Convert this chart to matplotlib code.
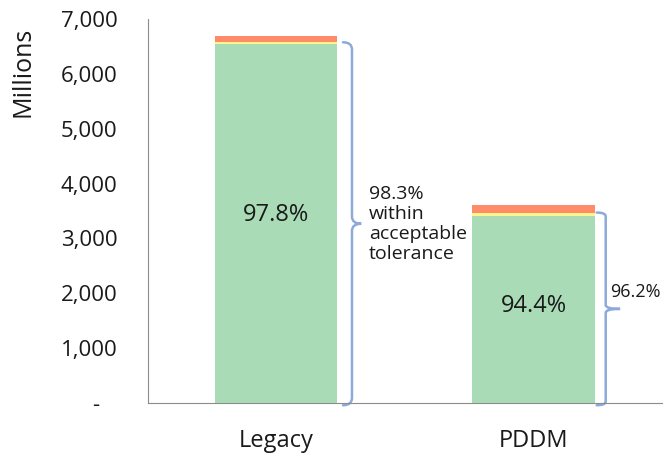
import matplotlib.pyplot as plt
from matplotlib.path import Path
from matplotlib.patches import PathPatch
from matplotlib.ticker import FuncFormatter

# data (millions)
categories = ['Legacy', 'PDDM']
green = [6543, 3407]    # within tight tolerance
yellow = [33, 65]       # within acceptable tolerance
red = [114, 138]        # outside tolerance
green_pct = ['97.8%', '94.4%']
brace_text = ['98.3%\nwithin\nacceptable\ntolerance', '96.2%']

c_green = '#A9DCB6'
c_yellow = '#FFF58C'
c_red = '#FF8C69'
c_brace = '#8DAADA'
txt = '#1a1a1a'

plt.rcParams['font.family'] = ['Open Sans', 'DejaVu Sans']

fig = plt.figure(figsize=(6.66, 4.58), dpi=100)
ax = fig.add_axes([0.222, 0.120, 0.772, 0.8385])

x = list(range(len(categories)))
w = 0.475
bot2 = [g + y for g, y in zip(green, yellow)]
ax.bar(x, green, width=w, color=c_green)
ax.bar(x, yellow, width=w, bottom=green, color=c_yellow)
ax.bar(x, red, width=w, bottom=bot2, color=c_red)

ax.set_xlim(-0.5, 1.5)
ax.set_ylim(0, 7000)
ax.set_yticks(range(0, 7001, 1000))
ax.yaxis.set_major_formatter(FuncFormatter(lambda v, p: '-   ' if v == 0 else f'{int(v):,}'))
ax.set_xticks(x)
ax.set_xticklabels(categories, fontsize=17, color=txt)
ax.tick_params(axis='both', length=0, labelsize=16, labelcolor=txt)
ax.tick_params(axis='x', labelsize=17, pad=19)
ax.tick_params(axis='y', pad=22)
for s in ['top', 'right']:
    ax.spines[s].set_visible(False)
ax.spines['left'].set_color('#8c8c8c')
ax.spines['bottom'].set_color('#8c8c8c')

ax.set_ylabel('Millions', fontsize=18, color=txt)
ax.yaxis.set_label_coords(-0.243, 0.862)
ax.yaxis.label.set_va('center')
ax.yaxis.label.set_ha('center')

# labels inside green bars
label_y = [3430, 1770]
for xi, ly, t in zip(x, label_y, green_pct):
    ax.text(xi, ly, t, ha='center', va='center', fontsize=17, color=txt)


def brace(ax, xb, y0, y1, tip, hook=0.035):
    ym = (y0 + y1) / 2
    r = (y1 - y0) * 0.02
    p = Path([(xb - hook, y1), (xb, y1), (xb, y1 - r),
              (xb, ym + r), (xb, ym), (xb + tip, ym),
              (xb, ym), (xb, ym - r),
              (xb, y0 + r), (xb, y0), (xb - hook, y0)],
             [Path.MOVETO, Path.CURVE3, Path.CURVE3,
              Path.LINETO, Path.CURVE3, Path.CURVE3,
              Path.CURVE3, Path.CURVE3,
              Path.LINETO, Path.CURVE3, Path.CURVE3])
    ax.add_patch(PathPatch(p, fill=False, edgecolor=c_brace, lw=1.8,
                           clip_on=False, capstyle='round'))
    return ym


brace_x = [0.294, 1.281]
brace_tip = [0.036, 0.056]
text_x = [0.36, 1.3]
text_dy = [0, 300]
text_fs = [14, 13]
for bx, bt, tx, dy, fs, top, t in zip(brace_x, brace_tip, text_x, text_dy, text_fs, bot2, brace_text):
    ym = brace(ax, bx, -40, top, bt)
    ax.text(tx, ym + dy, t, ha='left', va='center', fontsize=fs,
            color=txt, linespacing=1.15)

fig.savefig('out.png', dpi=100)
